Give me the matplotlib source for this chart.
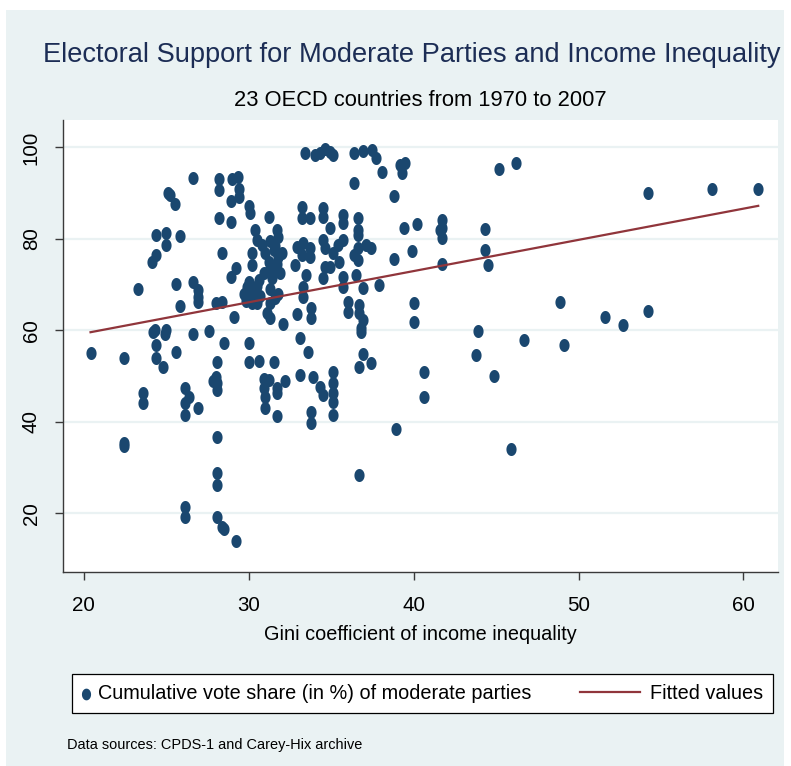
import matplotlib
matplotlib.use('Agg')
import matplotlib.pyplot as plt
import numpy as np
from matplotlib.path import Path
from matplotlib.patches import Rectangle
from matplotlib import font_manager

# narrow sans if we have it, otherwise plain Liberation Sans a bit smaller
names = {f.name for f in font_manager.fontManager.ttflist}
if 'Liberation Sans Narrow' in names:
    font, k = 'Liberation Sans Narrow', 1.0
else:
    font, k = 'Liberation Sans', 0.82
plt.rcParams['font.family'] = font

# Gini coefficient (x) and cumulative vote share of moderate parties in % (y)
gini = [
    20.4, 22.4, 22.4, 22.4, 23.3, 23.6, 23.6, 24.1, 24.4, 24.4,
    24.2, 24.3, 24.4, 24.9, 25.0, 24.4, 24.8, 25.6, 25.0, 25.0,
    25.8, 25.1, 25.2, 25.5, 25.6, 25.8, 26.1, 26.1, 26.4, 26.1,
    26.9, 26.1, 26.1, 26.6, 26.6, 26.9, 26.9, 26.9, 26.6, 27.6,
    27.8, 28.0, 28.4, 28.1, 28.5, 28.0, 28.1, 28.1, 28.1, 28.1,
    28.1, 28.1, 28.4, 28.5, 29.2, 28.2, 28.2, 28.2, 28.4, 28.9,
    28.9, 28.9, 29.2, 29.0, 29.35, 29.4, 29.4, 29.1, 30.0, 30.1,
    30.0, 30.0, 30.6, 30.2, 30.2, 30.4, 30.5, 30.8, 30.9, 29.7,
    29.9, 30.1, 30.3, 30.5, 30.7, 30.2, 29.8, 30.5, 31.1, 30.0,
    30.6, 30.9, 31.2, 30.9, 31.0, 31.0, 31.2, 31.5, 31.7, 31.7,
    32.2, 31.7, 31.7, 31.8, 31.3, 31.5, 31.8, 31.2, 31.5, 31.9,
    31.4, 31.6, 31.0, 31.2, 31.7, 32.0, 31.3, 31.8, 31.3, 31.6,
    31.3, 32.1, 32.8, 32.9, 32.9, 33.3, 33.2, 33.7, 33.7, 33.5,
    33.1, 33.6, 33.1, 33.9, 33.2, 33.2, 33.7, 33.3, 33.3, 33.4,
    34.0, 34.3, 34.6, 34.9, 35.1, 33.8, 33.8, 33.8, 33.8, 34.3,
    34.5, 34.5, 34.5, 34.5, 34.6, 35.1, 35.4, 35.7, 34.6, 34.9,
    34.5, 34.9, 35.1, 35.1, 35.1, 35.1, 35.1, 35.5, 35.7, 35.7,
    35.7, 35.7, 36.0, 36.0, 36.4, 36.9, 37.5, 37.7, 36.4, 36.4,
    36.6, 37.1, 37.4, 36.6, 36.5, 36.6, 36.6, 36.6, 36.7, 36.7,
    36.9, 36.8, 36.8, 36.9, 37.9, 36.9, 36.7, 37.4, 36.7, 38.1,
    38.8, 38.8, 38.9, 39.2, 39.5, 39.3, 39.4, 40.2, 39.9, 40.0,
    40.0, 40.6, 40.6, 41.7, 41.7, 41.7, 41.6, 41.7, 43.8, 43.9,
    44.3, 44.3, 44.5, 44.9, 45.2, 46.2, 45.9, 46.7, 48.9, 49.1,
    51.6, 52.7, 54.2, 54.2, 58.1, 60.9,
]
vote_share = [
    55.0, 53.9, 35.5, 34.8, 69.0, 46.3, 44.1, 74.9, 76.4, 80.8,
    59.6, 60.0, 56.8, 59.2, 60.1, 53.9, 52.0, 55.3, 81.2, 78.6,
    80.6, 90.0, 89.5, 87.6, 70.1, 65.3, 41.5, 47.4, 45.5, 44.1,
    43.0, 21.4, 19.2, 93.3, 70.5, 68.8, 67.3, 66.2, 59.2, 59.9,
    48.9, 65.9, 66.2, 53.1, 57.2, 49.8, 48.5, 47.0, 36.7, 28.8,
    26.2, 19.2, 17.0, 16.6, 14.0, 93.0, 90.8, 84.5, 76.9, 88.2,
    83.6, 71.7, 73.6, 93.0, 93.5, 91.0, 89.1, 62.9, 87.3, 85.6,
    57.2, 53.1, 53.3, 76.9, 74.3, 81.9, 79.7, 78.6, 72.5, 68.0,
    69.5, 67.0, 68.5, 69.8, 67.5, 66.0, 66.5, 65.9, 63.9, 70.5,
    71.0, 49.4, 49.2, 47.4, 45.5, 43.0, 84.7, 53.0, 47.4, 46.3,
    49.0, 41.3, 81.9, 80.4, 79.5, 77.5, 76.0, 75.0, 73.5, 72.5,
    71.5, 78.5, 77.0, 73.0, 74.5, 77.0, 69.0, 68.0, 66.0, 67.0,
    62.7, 61.5, 74.3, 63.7, 78.2, 79.1, 76.5, 78.0, 76.0, 72.1,
    58.3, 55.3, 50.3, 49.8, 86.9, 84.5, 84.5, 69.5, 67.3, 98.7,
    98.3, 98.7, 99.6, 98.9, 98.3, 64.9, 62.7, 42.1, 39.7, 47.6,
    45.9, 86.7, 84.7, 79.7, 78.0, 76.9, 78.6, 79.7, 73.8, 73.8,
    71.4, 82.5, 50.9, 48.5, 46.3, 44.3, 41.5, 75.0, 71.7, 69.5,
    85.2, 83.4, 66.2, 64.0, 98.7, 99.2, 99.4, 97.6, 92.2, 76.4,
    78.0, 78.6, 78.0, 75.4, 72.1, 84.5, 81.9, 80.8, 65.5, 63.8,
    62.2, 59.6, 60.5, 69.2, 69.9, 54.8, 52.0, 52.9, 28.5, 94.6,
    89.3, 75.6, 38.4, 96.1, 96.5, 94.4, 82.5, 83.2, 77.3, 65.9,
    61.8, 50.9, 45.5, 84.1, 82.3, 80.2, 81.9, 74.5, 54.6, 59.9,
    82.1, 77.5, 74.3, 50.0, 95.2, 96.5, 34.0, 57.9, 66.3, 56.8,
    62.9, 61.2, 90.0, 64.2, 90.9, 90.9,
]
# linear fit as reported: vote_share = fit_intercept + fit_slope * gini
fit_intercept = 45.7
fit_slope = 0.682

xticks = [20, 30, 40, 50, 60]
yticks = [20, 40, 60, 80, 100]

navy = '#1A476F'
maroon = '#90353B'
bluegray = '#EAF2F3'

W, H = 791, 766
fig = plt.figure(figsize=(W / 100, H / 100), dpi=100)
fig.patch.set_facecolor('white')
fig.patches.append(Rectangle((6 / W, 0), 778 / W, 756 / H, transform=fig.transFigure,
                             facecolor=bluegray, edgecolor='none', zorder=-1))

ax = fig.add_axes([63 / W, 1 - 572 / H, 715 / W, 452 / H])
ax.set_facecolor('white')

# slightly tall ellipse as marker
t = np.linspace(0, 2 * np.pi, 48)
ellipse = Path(np.column_stack([0.78 * np.cos(t), np.sin(t)]))

sc = ax.scatter(gini, vote_share, s=88, marker=ellipse, color=navy, linewidths=0,
                zorder=3, label='Cumulative vote share (in %) of moderate parties')
xfit = np.array([min(gini), max(gini)])
ln, = ax.plot(xfit, fit_intercept + fit_slope * xfit, color=maroon, lw=1.6, zorder=4,
              label='Fitted values')

ax.set_xlim(18.73, 62.1)
ax.set_ylim(7.2, 106)
ax.set_xticks(xticks)
ax.set_yticks(yticks)
ax.grid(axis='y', color=bluegray, lw=1.6)
ax.set_axisbelow(True)
for s in ['top', 'right']:
    ax.spines[s].set_visible(False)
for s in ['left', 'bottom']:
    ax.spines[s].set_color('#3a3a3a')
    ax.spines[s].set_linewidth(1)
ax.tick_params(length=6, width=1, color='#3a3a3a', labelsize=18 * k)
ax.tick_params(axis='x', pad=11)
ax.tick_params(axis='y', pad=10, labelrotation=90)
for lbl in ax.get_yticklabels():
    lbl.set_va('center')

# titles and axis label
fig.text(412 / W, 1 - 55 / H, 'Electoral Support for Moderate Parties and Income Inequality',
         ha='center', va='center', fontsize=23.9 * k, color='#1C2D55')
fig.text(420 / W, 1 - 100 / H, '23 OECD countries from 1970 to 2007',
         ha='center', va='center', fontsize=19.2 * k)
fig.text(420 / W, 1 - 634 / H, 'Gini coefficient of income inequality',
         ha='center', va='center', fontsize=17.5 * k)
fig.text(67 / W, 1 - 745 / H, 'Data sources: CPDS-1 and Carey-Hix archive',
         ha='left', va='center', fontsize=12.7 * k)

# legend box: dot entry on the left, fitted line on the right
box = (72 / W, 1 - 720 / H, 701 / W, 53 / H)
leg1 = ax.legend(handles=[sc], loc='center left', bbox_to_anchor=box,
                 bbox_transform=fig.transFigure, mode='expand', fancybox=False,
                 edgecolor='black', framealpha=1, borderaxespad=0, borderpad=0.5,
                 handlelength=0.4, handletextpad=0.4, fontsize=17.5 * k, markerscale=0.9)
leg1.get_frame().set_linewidth(0.9)
ax.add_artist(leg1)
ax.legend(handles=[ln], loc='center right', bbox_to_anchor=box,
          bbox_transform=fig.transFigure, frameon=False, borderaxespad=0,
          borderpad=0.5, handlelength=3.0, handletextpad=0.5, fontsize=17.5 * k)

plt.savefig('out.png', dpi=100, facecolor=fig.get_facecolor())
